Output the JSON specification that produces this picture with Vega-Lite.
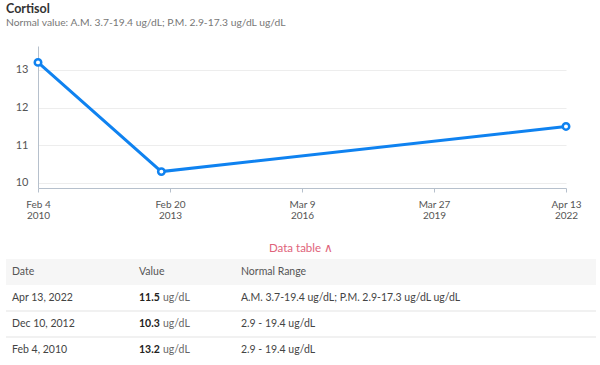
{
  "$schema": "https://vega.github.io/schema/vega-lite/v6.json",
  "padding": {"left": 5, "right": 5, "top": 3, "bottom": 0},
  "background": "white",
  "config": {"font": "Lato", "view": {"stroke": null}},
  "datasets": {
    "readings": [
      {"date": "2010-02-04", "label": "Feb 4, 2010", "value": 13.2, "range": "2.9 - 19.4 ug/dL"},
      {"date": "2012-12-10", "label": "Dec 10, 2012", "value": 10.3, "range": "2.9 - 19.4 ug/dL"},
      {"date": "2022-04-13", "label": "Apr 13, 2022", "value": 11.5, "range": "A.M. 3.7-19.4 ug/dL; P.M. 2.9-17.3 ug/dL ug/dL"}
    ],
    "header": [{"col": "Date"}, {"col": "Value"}, {"col": "Normal Range"}]
  },
  "spacing": 22,
  "vconcat": [
    {
      "width": 560,
      "height": 142,
      "title": {
        "text": "Cortisol",
        "subtitle": "Normal value: A.M. 3.7-19.4 ug/dL; P.M. 2.9-17.3 ug/dL ug/dL",
        "anchor": "start",
        "frame": "group",
        "fontSize": 12.5,
        "fontWeight": "bold",
        "color": "#333333",
        "subtitleFontSize": 10.3,
        "subtitleColor": "#777777",
        "subtitlePadding": 2,
        "offset": 18
      },
      "data": {"name": "readings"},
      "encoding": {
        "x": {
          "field": "date",
          "type": "temporal",
          "scale": {"nice": false, "range": [32, 560]},
          "axis": {
            "title": null,
            "values": [
              {"year": 2010, "month": 2, "date": 4, "utc": true},
              {"year": 2013, "month": 2, "date": 20, "hours": 18, "utc": true},
              {"year": 2016, "month": 3, "date": 9, "hours": 12, "utc": true},
              {"year": 2019, "month": 3, "date": 27, "hours": 6, "utc": true},
              {"year": 2022, "month": 4, "date": 13, "utc": true}
            ],
            "labelExpr": "[utcFormat(datum.value, '%b %-d'), utcFormat(datum.value, '%Y')]",
            "labelFlush": false,
            "labelOverlap": false,
            "labelBound": false,
            "labelFontSize": 10,
            "labelColor": "#555555",
            "labelLineHeight": 11,
            "labelPadding": 7,
            "tickSize": 4,
            "tickColor": "#b6c0cc",
            "domainColor": "#b6c0cc",
            "grid": false
          }
        },
        "y": {
          "field": "value",
          "type": "quantitative",
          "scale": {"domain": [9.865, 13.635], "nice": false, "zero": false},
          "axis": {
            "title": null,
            "values": [10, 11, 12, 13],
            "ticks": false,
            "offset": -32,
            "labelPadding": 10,
            "labelFontSize": 11,
            "labelColor": "#555555",
            "minExtent": 0,
            "domainColor": "#b6c0cc",
            "gridColor": "#ededed"
          }
        }
      },
      "layer": [
        {"mark": {"type": "line", "color": "#0f82f0", "strokeWidth": 3}},
        {"mark": {"type": "point", "filled": true, "fill": "white", "stroke": "#0f82f0", "strokeWidth": 2.5, "size": 42, "opacity": 1}}
      ]
    },
    {
      "title": {"text": "Data table ∧", "anchor": "middle", "color": "#e0637a", "fontSize": 11.5, "fontWeight": "normal", "offset": 5},
      "spacing": 0,
      "bounds": "flush",
      "hconcat": [
        {
          "width": 128,
          "height": 104,
          "encoding": {
            "x": {"scale": {"domain": [0, 1], "nice": false, "zero": false}, "axis": null},
            "y": {"scale": {"type": "band", "domain": ["header", "Apr 13, 2022", "Dec 10, 2012", "Feb 4, 2010"], "paddingInner": 0, "paddingOuter": 0}, "axis": null}
          },
          "layer": [
            {"data": {"name": "header"}, "transform": [{"filter": "datum.col === 'Date'"}], "mark": {"type": "rect", "color": "#f6f6f6"}, "encoding": {"x": {"datum": 0, "type": "quantitative"}, "x2": {"datum": 1}, "y": {"datum": "header", "type": "nominal"}}},
            {"data": {"name": "readings"}, "transform": [{"filter": "datum.label !== 'Feb 4, 2010'"}], "mark": {"type": "rule", "color": "#e3e3e3", "strokeWidth": 1}, "encoding": {"x": {"datum": 0, "type": "quantitative"}, "x2": {"datum": 1}, "y": {"field": "label", "type": "nominal", "bandPosition": 1}}},
            {"data": {"name": "header"}, "transform": [{"filter": "datum.col === 'Date'"}], "mark": {"type": "text", "align": "left", "dx": 6, "fontSize": 10.5, "color": "#555555"}, "encoding": {"x": {"datum": 0, "type": "quantitative"}, "y": {"datum": "header", "type": "nominal"}, "text": {"field": "col"}}},
            {"data": {"name": "readings"}, "mark": {"type": "text", "align": "left", "dx": 6, "fontSize": 10.5, "color": "#444444"}, "encoding": {"x": {"datum": 0, "type": "quantitative"}, "y": {"field": "label", "type": "nominal"}, "text": {"field": "label"}}}
          ]
        },
        {
          "width": 102,
          "height": 104,
          "encoding": {
            "x": {"scale": {"domain": [0, 1], "nice": false, "zero": false}, "axis": null},
            "y": {"scale": {"type": "band", "domain": ["header", "Apr 13, 2022", "Dec 10, 2012", "Feb 4, 2010"], "paddingInner": 0, "paddingOuter": 0}, "axis": null}
          },
          "layer": [
            {"data": {"name": "header"}, "transform": [{"filter": "datum.col === 'Value'"}], "mark": {"type": "rect", "color": "#f6f6f6"}, "encoding": {"x": {"datum": 0, "type": "quantitative"}, "x2": {"datum": 1}, "y": {"datum": "header", "type": "nominal"}}},
            {"data": {"name": "readings"}, "transform": [{"filter": "datum.label !== 'Feb 4, 2010'"}], "mark": {"type": "rule", "color": "#e3e3e3", "strokeWidth": 1}, "encoding": {"x": {"datum": 0, "type": "quantitative"}, "x2": {"datum": 1}, "y": {"field": "label", "type": "nominal", "bandPosition": 1}}},
            {"data": {"name": "header"}, "transform": [{"filter": "datum.col === 'Value'"}], "mark": {"type": "text", "align": "left", "dx": 5, "fontSize": 10.5, "color": "#555555"}, "encoding": {"x": {"datum": 0, "type": "quantitative"}, "y": {"datum": "header", "type": "nominal"}, "text": {"field": "col"}}},
            {"data": {"name": "readings"}, "mark": {"type": "text", "align": "left", "dx": 5, "fontSize": 10.5, "fontWeight": "bold", "color": "#222222"}, "encoding": {"x": {"datum": 0, "type": "quantitative"}, "y": {"field": "label", "type": "nominal"}, "text": {"field": "value", "type": "quantitative", "format": ".1f"}}},
            {"data": {"name": "readings"}, "mark": {"type": "text", "align": "left", "dx": 29, "fontSize": 10.5, "color": "#666666", "text": "ug/dL"}, "encoding": {"x": {"datum": 0, "type": "quantitative"}, "y": {"field": "label", "type": "nominal"}}}
          ]
        },
        {
          "width": 360,
          "height": 104,
          "encoding": {
            "x": {"scale": {"domain": [0, 1], "nice": false, "zero": false}, "axis": null},
            "y": {"scale": {"type": "band", "domain": ["header", "Apr 13, 2022", "Dec 10, 2012", "Feb 4, 2010"], "paddingInner": 0, "paddingOuter": 0}, "axis": null}
          },
          "layer": [
            {"data": {"name": "header"}, "transform": [{"filter": "datum.col === 'Normal Range'"}], "mark": {"type": "rect", "color": "#f6f6f6"}, "encoding": {"x": {"datum": 0, "type": "quantitative"}, "x2": {"datum": 1}, "y": {"datum": "header", "type": "nominal"}}},
            {"data": {"name": "readings"}, "transform": [{"filter": "datum.label !== 'Feb 4, 2010'"}], "mark": {"type": "rule", "color": "#e3e3e3", "strokeWidth": 1}, "encoding": {"x": {"datum": 0, "type": "quantitative"}, "x2": {"datum": 1}, "y": {"field": "label", "type": "nominal", "bandPosition": 1}}},
            {"data": {"name": "header"}, "transform": [{"filter": "datum.col === 'Normal Range'"}], "mark": {"type": "text", "align": "left", "dx": 5, "fontSize": 10.5, "color": "#555555"}, "encoding": {"x": {"datum": 0, "type": "quantitative"}, "y": {"datum": "header", "type": "nominal"}, "text": {"field": "col"}}},
            {"data": {"name": "readings"}, "mark": {"type": "text", "align": "left", "dx": 5, "fontSize": 10.5, "color": "#444444"}, "encoding": {"x": {"datum": 0, "type": "quantitative"}, "y": {"field": "label", "type": "nominal"}, "text": {"field": "range"}}}
          ]
        }
      ]
    }
  ]
}
